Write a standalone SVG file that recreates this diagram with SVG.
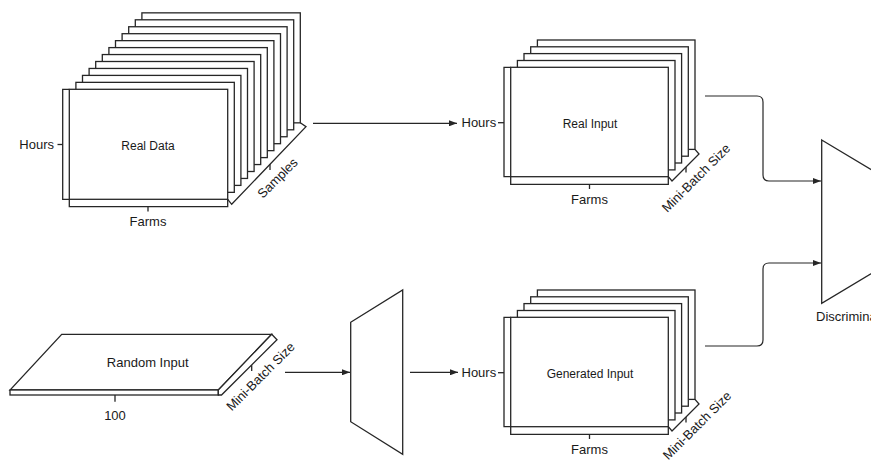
<svg xmlns="http://www.w3.org/2000/svg" width="871" height="462" viewBox="0 0 871 462">
<style>
  .sheet { fill: #fff; stroke: #262626; stroke-width: 1.3; }
  .br { fill: none; stroke: #262626; stroke-width: 1.3; stroke-linejoin: miter; }
  .edge { fill: none; stroke: #262626; stroke-width: 1.2; }
  .lbl { font-family: "Liberation Sans", Arial, sans-serif; fill: #1a1a1a; }
  .ax { font-size: 13px; }
  .in { font-size: 12px; }
  .rot { font-size: 13px; }
  .mid { text-anchor: middle; }
</style>
<defs>
  <marker id="arr" viewBox="0 0 8 6" refX="8" refY="3" markerWidth="8" markerHeight="6" markerUnits="userSpaceOnUse" orient="auto">
    <path d="M0,0 L8,3 L0,6 Z" fill="#262626"/>
  </marker>
  <g id="stack5">
    <rect class="sheet" x="537.4" y="40" width="157.6" height="109.4"/>
    <rect class="sheet" x="530.7" y="46.8" width="157.6" height="109.4"/>
    <rect class="sheet" x="524" y="53.6" width="157.6" height="109.4"/>
    <rect class="sheet" x="517.4" y="60.5" width="157.6" height="109.4"/>
    <rect class="sheet" x="510.7" y="67.3" width="157.6" height="109.4"/>
    <path class="br" d="M510.7,67.3 H504 V176.7 H510.7"/>
    <path class="br" d="M510.7,176.7 V184.3 H668.3 V176.7"/>
    <path class="br" d="M498,122.7 H504"/>
    <path class="br" d="M589.5,184.3 V189"/>
    <path class="br" d="M668.3,176.7 L672,181 L699,154 L695,149.4"/>
    <path class="br" d="M686,167 V172.5"/>
  </g>
</defs>

<g id="real-data">
  <rect class="sheet" x="141.9" y="12.85" width="158.4" height="110"/>
  <rect class="sheet" x="135.3" y="19.8" width="158.4" height="110"/>
  <rect class="sheet" x="128.7" y="26.75" width="158.4" height="110"/>
  <rect class="sheet" x="122.1" y="33.7" width="158.4" height="110"/>
  <rect class="sheet" x="115.5" y="40.65" width="158.4" height="110"/>
  <rect class="sheet" x="108.9" y="47.6" width="158.4" height="110"/>
  <rect class="sheet" x="102.3" y="54.55" width="158.4" height="110"/>
  <rect class="sheet" x="95.7" y="61.5" width="158.4" height="110"/>
  <rect class="sheet" x="89.1" y="68.45" width="158.4" height="110"/>
  <rect class="sheet" x="82.5" y="75.4" width="158.4" height="110"/>
  <rect class="sheet" x="75.9" y="82.35" width="158.4" height="110"/>
  <rect class="sheet" x="69.3" y="89.3" width="158.4" height="110"/>
  <path class="br" d="M69.3,89.3 H62.7 V199.3 H69.3"/>
  <path class="br" d="M69.3,199.3 V206.7 H227.7 V199.3"/>
  <path class="br" d="M57.5,144.5 H62.7"/>
  <path class="br" d="M148,206.7 V211.5"/>
  <path class="br" d="M227.7,199.3 L231.7,204.3 L306,126.7 L300.3,122.8"/>
  <path class="br" d="M270,164.3 V170"/>
  <text class="lbl ax" x="54" y="149" text-anchor="end">Hours</text>
  <text class="lbl in mid" x="148" y="150">Real Data</text>
  <text class="lbl ax mid" x="148" y="225.5">Farms</text>
  <text class="lbl rot mid" x="277.5" y="182.5" transform="rotate(-45 277.5 178)">Samples</text>
</g>

<g id="real-input">
  <use href="#stack5"/>
  <text class="lbl ax" x="461.5" y="127">Hours</text>
  <text class="lbl in mid" x="590" y="127.5">Real Input</text>
  <text class="lbl ax mid" x="589.5" y="203.5">Farms</text>
  <text class="lbl rot mid" x="696" y="182.5" transform="rotate(-45 696 178)">Mini-Batch Size</text>
</g>

<g id="generated-input">
  <use href="#stack5" transform="translate(0 250)"/>
  <text class="lbl ax" x="461.5" y="377">Hours</text>
  <text class="lbl in mid" x="590" y="377.5">Generated Input</text>
  <text class="lbl ax mid" x="589.5" y="453.5">Farms</text>
  <text class="lbl rot mid" x="697" y="430" transform="rotate(-45 697 425.5)">Mini-Batch Size</text>
</g>

<g id="random-input">
  <polygon class="sheet" points="61.7,334.3 271.7,334.3 218.3,390 10,390"/>
  <rect class="sheet" x="10" y="390" width="208.3" height="5"/>
  <path class="sheet" d="M218.3,390 L271.7,334.3 L277,339.7 L221.5,395 L218.3,395 Z"/>
  <path class="br" d="M115,395 V401.7"/>
  <path class="br" d="M251.7,365.2 V371"/>
  <text class="lbl ax mid" x="147.7" y="367">Random Input</text>
  <text class="lbl ax mid" x="115" y="419.5">100</text>
  <text class="lbl rot mid" x="260.5" y="381" transform="rotate(-45 260.5 376.5)">Mini-Batch Size</text>
</g>

<g id="generator">
  <polygon class="sheet" points="350.7,322.3 402.7,290 402.7,454.3 350.7,421.7"/>
</g>

<g id="discriminator">
  <polygon class="sheet" points="821.7,140 905,190 905,253.3 821.7,303.3"/>
  <text class="lbl ax" x="816" y="320.5">Discriminator</text>
</g>

<g id="connectors">
  <path class="edge" d="M313,123.3 H457" marker-end="url(#arr)"/>
  <path class="edge" d="M285,372.3 H350" marker-end="url(#arr)"/>
  <path class="edge" d="M410,372.3 H458" marker-end="url(#arr)"/>
  <path class="edge" d="M705,96 H757 Q763,96 763,102 V175 Q763,181 769,181 H821" marker-end="url(#arr)"/>
  <path class="edge" d="M705,346 H757 Q763,346 763,340 V269 Q763,263 769,263 H821" marker-end="url(#arr)"/>
</g>
</svg>
